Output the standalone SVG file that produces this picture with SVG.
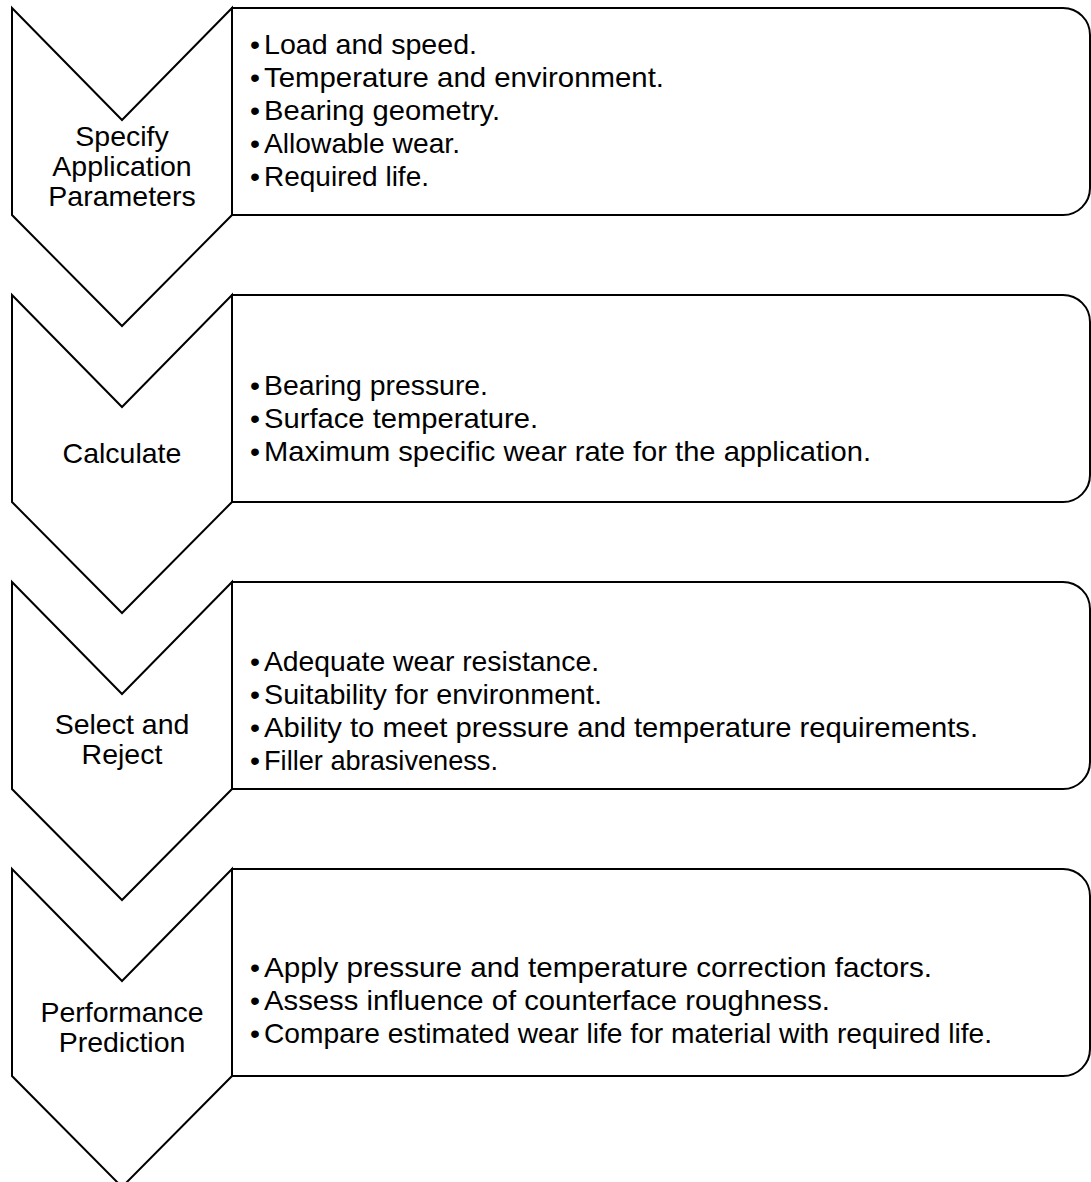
<svg xmlns="http://www.w3.org/2000/svg" width="1091" height="1182" viewBox="0 0 1091 1182">
<style>
.shape{fill:#fff;stroke:#000;stroke-width:2;stroke-linejoin:miter}
.lbl{font-family:"Liberation Sans",Arial,sans-serif;font-size:28.5px;fill:#000;text-anchor:middle}
.item{font-family:"Liberation Sans",Arial,sans-serif;font-size:28.5px;fill:#000}
</style>
<defs>
<path id="box" d="M232,0 H1063 A27,27 0 0 1 1090,27 V180 A27,27 0 0 1 1063,207 H232 Z"/>
<path id="chev" d="M12,0 L122,112 L232,0 L232,207 L122,318 L12,207 Z"/>
</defs>
<g id="connectors"></g>
<g id="step1" transform="translate(0,8)">
<use href="#box" class="shape"/>
<use href="#chev" class="shape"/>
</g>
<g id="step1-text">
<text class="lbl" x="122"><tspan x="122" y="146">Specify</tspan><tspan x="122" y="176">Application</tspan><tspan x="122" y="206">Parameters</tspan></text>
<text class="item" y="54"><tspan x="250">•</tspan><tspan x="264" textLength="213" lengthAdjust="spacingAndGlyphs">Load and speed.</tspan></text>
<text class="item" y="87"><tspan x="250">•</tspan><tspan x="264" textLength="400" lengthAdjust="spacingAndGlyphs">Temperature and environment.</tspan></text>
<text class="item" y="120"><tspan x="250">•</tspan><tspan x="264" textLength="236" lengthAdjust="spacingAndGlyphs">Bearing geometry.</tspan></text>
<text class="item" y="153"><tspan x="250">•</tspan><tspan x="264" textLength="196" lengthAdjust="spacingAndGlyphs">Allowable wear.</tspan></text>
<text class="item" y="186"><tspan x="250">•</tspan><tspan x="264" textLength="165" lengthAdjust="spacingAndGlyphs">Required life.</tspan></text>
</g>
<g id="step2" transform="translate(0,295)">
<use href="#box" class="shape"/>
<use href="#chev" class="shape"/>
</g>
<g id="step2-text">
<text class="lbl" x="122" y="463">Calculate</text>
<text class="item" y="395"><tspan x="250">•</tspan><tspan x="264" textLength="224" lengthAdjust="spacingAndGlyphs">Bearing pressure.</tspan></text>
<text class="item" y="428"><tspan x="250">•</tspan><tspan x="264" textLength="274" lengthAdjust="spacingAndGlyphs">Surface temperature.</tspan></text>
<text class="item" y="461"><tspan x="250">•</tspan><tspan x="264" textLength="607" lengthAdjust="spacingAndGlyphs">Maximum specific wear rate for the application.</tspan></text>
</g>
<g id="step3" transform="translate(0,582)">
<use href="#box" class="shape"/>
<use href="#chev" class="shape"/>
</g>
<g id="step3-text">
<text class="lbl" x="122"><tspan x="122" y="734">Select and</tspan><tspan x="122" y="764">Reject</tspan></text>
<text class="item" y="671"><tspan x="250">•</tspan><tspan x="264" textLength="335" lengthAdjust="spacingAndGlyphs">Adequate wear resistance.</tspan></text>
<text class="item" y="704"><tspan x="250">•</tspan><tspan x="264" textLength="338" lengthAdjust="spacingAndGlyphs">Suitability for environment.</tspan></text>
<text class="item" y="737"><tspan x="250">•</tspan><tspan x="264" textLength="714" lengthAdjust="spacingAndGlyphs">Ability to meet pressure and temperature requirements.</tspan></text>
<text class="item" y="770"><tspan x="250">•</tspan><tspan x="264" textLength="234" lengthAdjust="spacingAndGlyphs">Filler abrasiveness.</tspan></text>
</g>
<g id="step4" transform="translate(0,869)">
<use href="#box" class="shape"/>
<use href="#chev" class="shape"/>
</g>
<g id="step4-text">
<text class="lbl" x="122"><tspan x="122" y="1022">Performance</tspan><tspan x="122" y="1052">Prediction</tspan></text>
<text class="item" y="977"><tspan x="250">•</tspan><tspan x="264" textLength="668" lengthAdjust="spacingAndGlyphs">Apply pressure and temperature correction factors.</tspan></text>
<text class="item" y="1010"><tspan x="250">•</tspan><tspan x="264" textLength="566" lengthAdjust="spacingAndGlyphs">Assess influence of counterface roughness.</tspan></text>
<text class="item" y="1043"><tspan x="250">•</tspan><tspan x="264" textLength="728" lengthAdjust="spacingAndGlyphs">Compare estimated wear life for material with required life.</tspan></text>
</g>
</svg>
